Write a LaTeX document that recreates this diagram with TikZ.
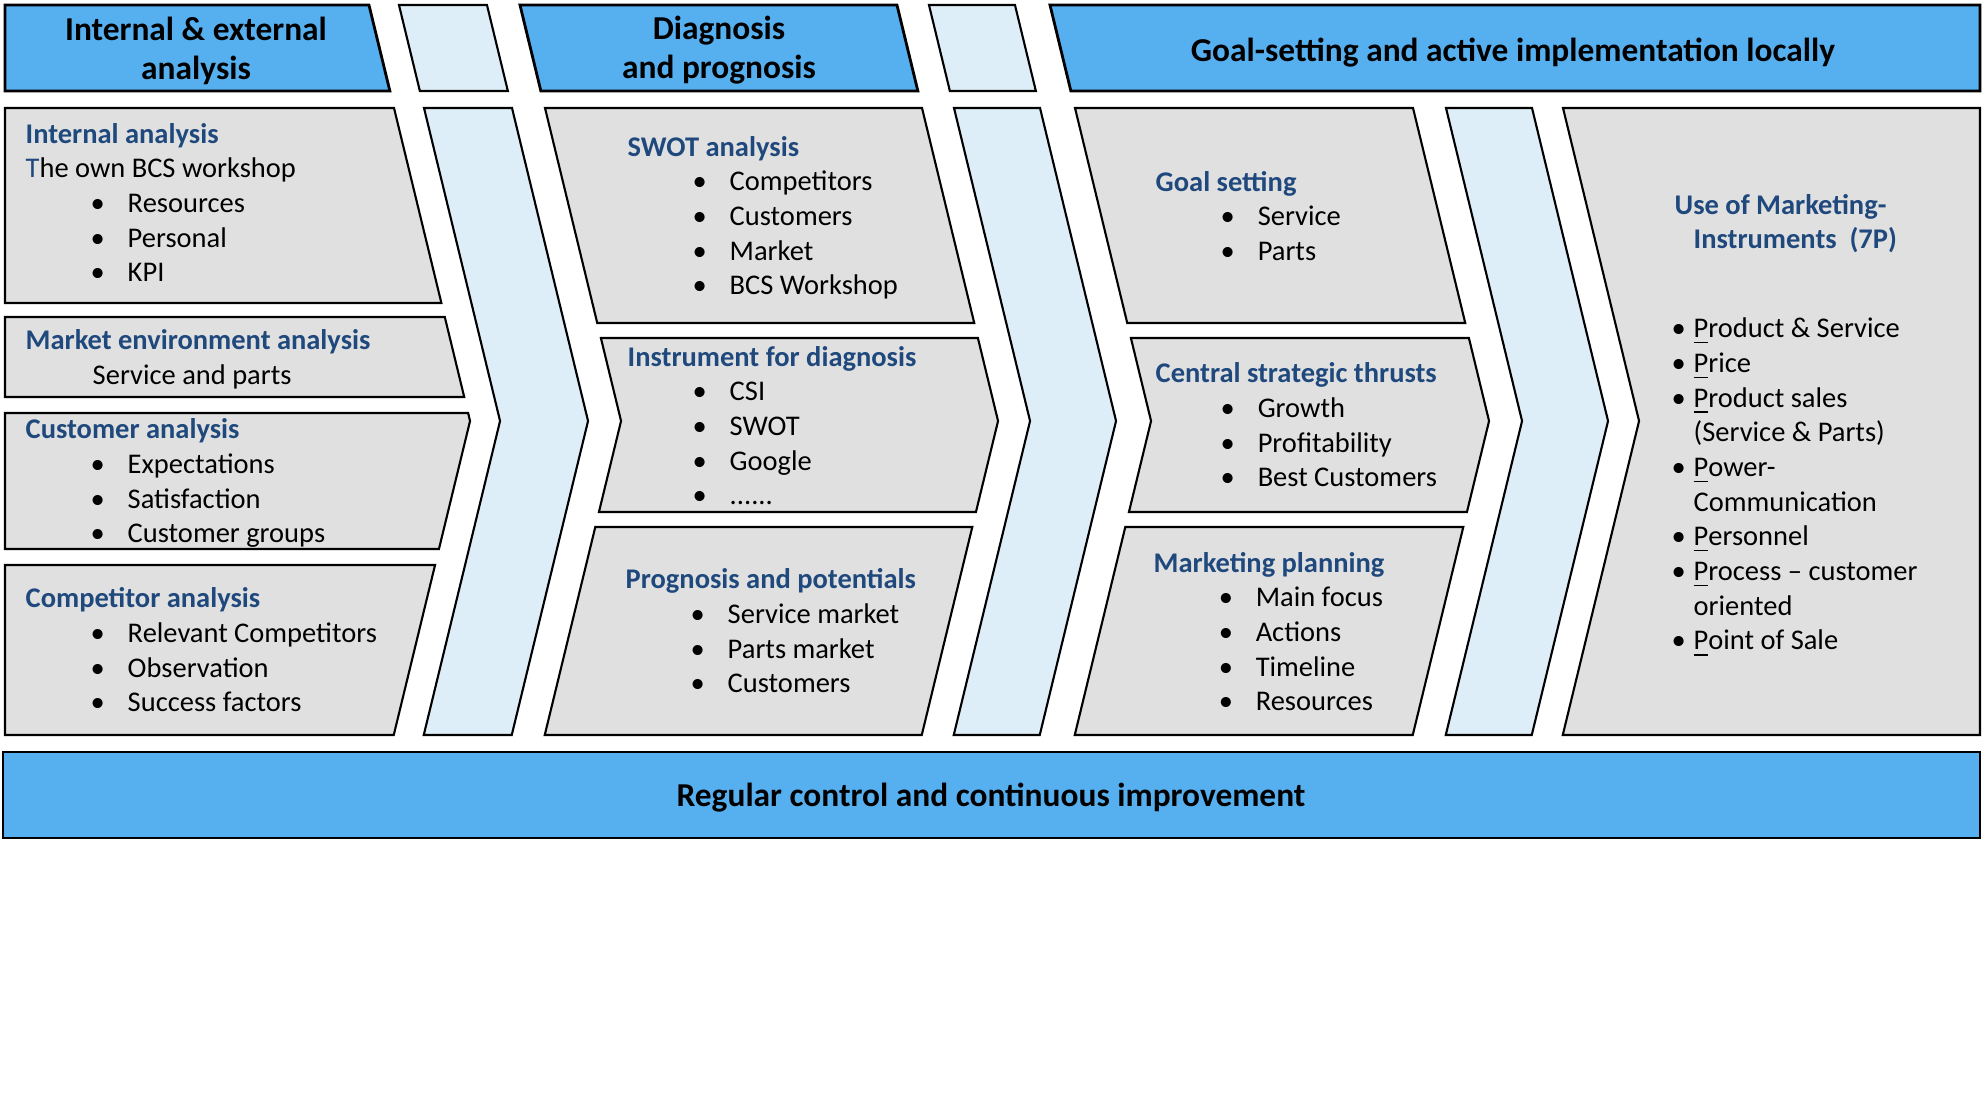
\documentclass[tikz,border=0pt]{standalone}
\usepackage{fontspec}
\setmainfont{Carlito}
\definecolor{headblue}{RGB}{86,176,240}
\definecolor{chevblue}{RGB}{222,238,248}
\definecolor{boxgray}{RGB}{224,224,224}
\definecolor{titleblue}{RGB}{31,73,125}
\newcommand\itm{\hspace*{0.65cm}\makebox[0.37cm][l]{\textbullet}}
\newcommand\pit{\makebox[0.22cm][l]{\textbullet}\underline{P}}
\newcommand\ttl[1]{{\bfseries\color{titleblue}#1}}
\newcommand\panel[5]{\path[#1] ({cx(#2,#4)},#4) -- ({cx(#3,#4)},#4)
  -- ({cx(#3,tipy(#4,#5))},{tipy(#4,#5)}) -- ({cx(#3,#5)},#5)
  -- ({cx(#2,#5)},#5) -- ({cx(#2,tipy(#4,#5))},{tipy(#4,#5)}) -- cycle;}

\begin{document}
\begin{tikzpicture}[x=0.01cm, y=-0.01cm,
    declare function={cx(\c,\y)=(\c<10||\c>1900)?\c:\c+0.243*(313-abs(\y-421));
      tipy(\a,\b)=min(max(421,\a),\b);},
    headbar/.style={fill=headblue, draw=black, line width=0.8pt},
    chev/.style={fill=chevblue, draw=black, line width=0.6pt},
    panelbox/.style={fill=boxgray, draw=black, line width=0.6pt},
    txt/.style={anchor=base west, align=left, inner sep=0pt, font=\fontsize{8.1}{9.87}\selectfont},
    headtxt/.style={align=center, inner sep=0pt, font=\fontsize{9.5}{11.1}\selectfont\bfseries}]
    \path[fill=white] (0,0) rectangle (1984,1116);
    \useasboundingbox (0,0) rectangle (1984,1116);

    \panel{headbar}{5}{394}{5}{91}
    \panel{chev}{424}{512}{5}{91}
    \panel{headbar}{545}{922}{5}{91}
    \panel{chev}{954}{1040}{5}{91}
    \panel{headbar}{1075}{1980}{5}{91}

    \panel{panelbox}{5}{394}{108}{303}
    \panel{panelbox}{5}{394}{317}{397}
    \panel{panelbox}{5}{394}{413}{549}
    \panel{panelbox}{5}{394}{565}{735}
    \panel{chev}{424}{512}{108}{735}
    \panel{panelbox}{545}{922}{108}{323}
    \panel{panelbox}{545}{922}{338}{512}
    \panel{panelbox}{545}{922}{527}{735}
    \panel{chev}{954}{1040}{108}{735}
    \panel{panelbox}{1075}{1413}{108}{323}
    \panel{panelbox}{1075}{1413}{338}{512}
    \panel{panelbox}{1075}{1413}{527}{735}
    \panel{chev}{1446}{1532}{108}{735}
    \panel{panelbox}{1563}{1980}{108}{735}
    \panel{headbar}{3}{1980}{752}{838}

    \node[headtxt] (h1) at (196,50.5) {Internal \& external\\analysis};
    \node[headtxt] (h2) at (719,50.5) {Diagnosis\\and prognosis};
    \node[headtxt] (h3) at (1513,53) {Goal-setting and active implementation locally};
    \node[headtxt] (control) at (991,798) {Regular control and continuous improvement};

    % lists are placed by the baseline of their last line
    \node[txt] (internal) at (25,282) {\ttl{Internal analysis}\\{\color{titleblue}T}he own BCS workshop\\\itm Resources\\\itm Personal\\\itm KPI};
    \node[txt] (market) at (25,384.5) {\ttl{Market environment analysis}\\\hspace*{0.67cm}Service and parts};
    \node[txt] (customer) at (25,543) {\ttl{Customer analysis}\\\itm Expectations\\\itm Satisfaction\\\itm Customer groups};
    \node[txt] (competitor) at (25,712) {\ttl{Competitor analysis}\\\itm Relevant Competitors\\\itm Observation\\\itm Success factors};

    \node[txt] (swot) at (627,295) {\ttl{SWOT analysis}\\\itm Competitors\\\itm Customers\\\itm Market\\\itm BCS Workshop};
    \node[txt] (instrument) at (627,505) {\ttl{Instrument for diagnosis}\\\itm CSI\\\itm SWOT\\\itm Google\\\itm ......};
    \node[txt] (prognosis) at (625,693) {\ttl{Prognosis and potentials}\\\itm Service market\\\itm Parts market\\\itm Customers};

    \node[txt] (goal) at (1155,260.5) {\ttl{Goal setting}\\\itm Service\\\itm Parts};
    \node[txt] (thrusts) at (1155,487) {\ttl{Central strategic thrusts}\\\itm Growth\\\itm Profitability\\\itm Best Customers};
    \node[txt] (planning) at (1153,711) {\ttl{Marketing planning}\\\itm Main focus\\\itm Actions\\\itm Timeline\\\itm Resources};

    \node[txt] (instruments) at (1674,249) {\ttl{Use of Marketing-}\\\hspace*{0.19cm}\ttl{Instruments\ \ (7P)}};
    \node[txt] (sevenp) at (1671,650) {\pit roduct \& Service\\\pit rice\\\pit roduct sales\\\hspace*{0.22cm}(Service \& Parts)\\\pit ower-\\\hspace*{0.22cm}Communication\\\pit ersonnel\\\pit rocess -- customer\\\hspace*{0.22cm}oriented\\\pit oint of Sale};
\end{tikzpicture}
\end{document}
